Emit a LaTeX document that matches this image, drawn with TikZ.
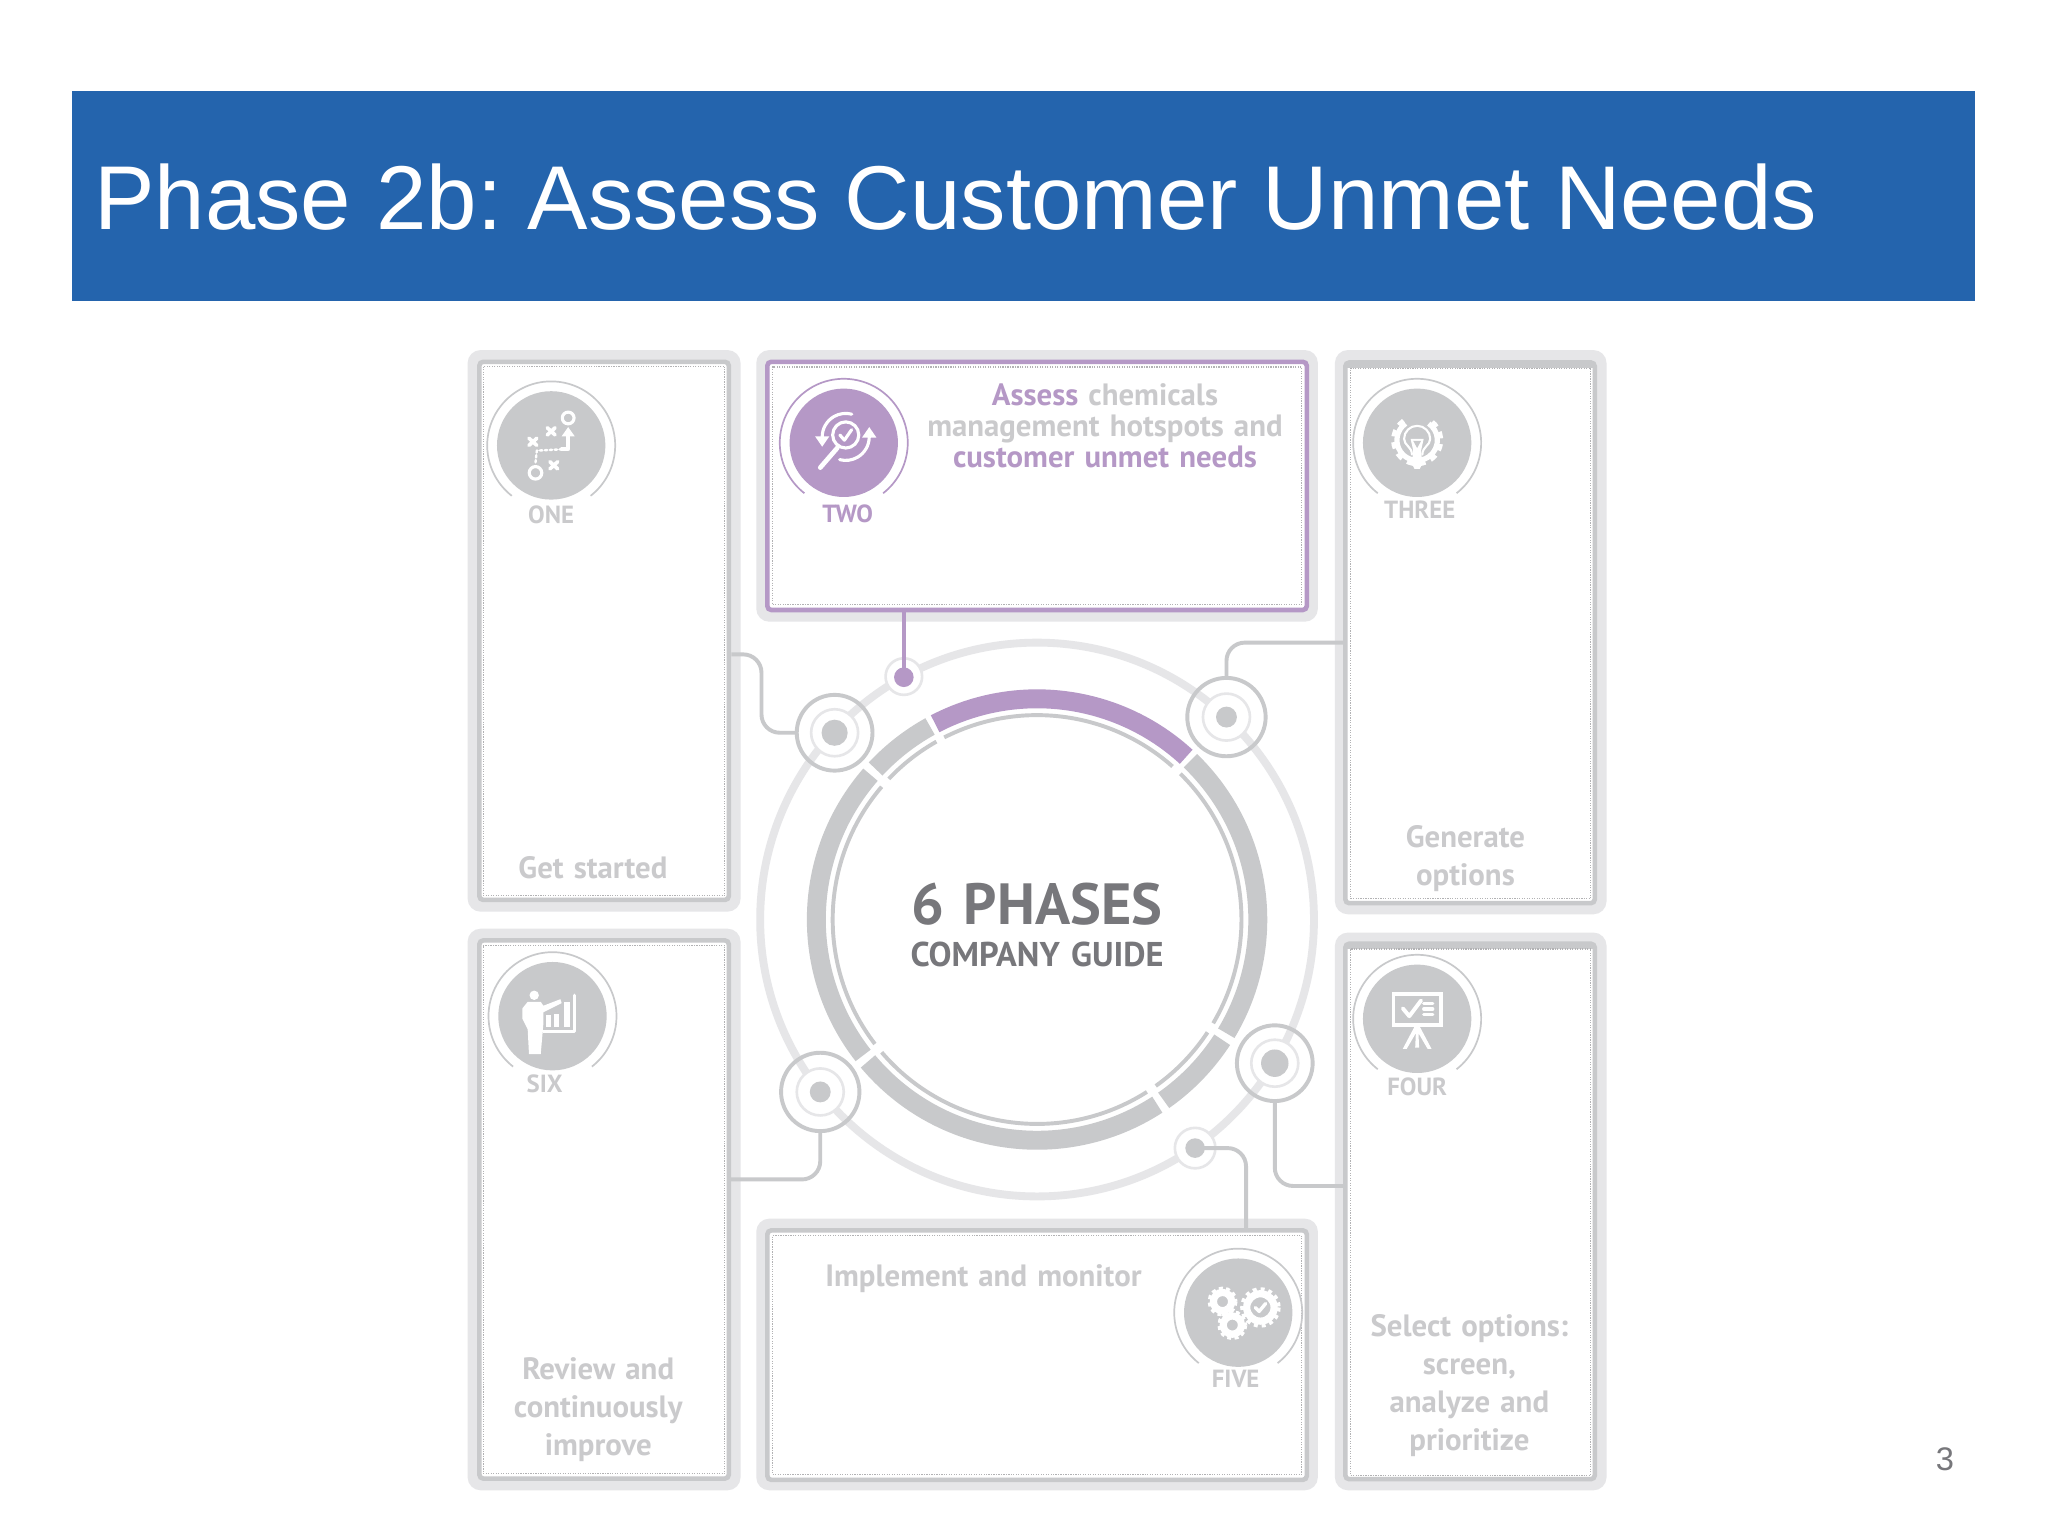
\documentclass[tikz,border=0pt]{standalone}
\usepackage{fontspec}
\setmainfont{Liberation Sans}
\newfontfamily\guidefont[WordSpace=1.3]{PT Sans}
\frenchspacing
\definecolor{guideblue}{RGB}{36,100,173}
\definecolor{guidepurple}{RGB}{181,152,198}
\definecolor{guidegrey}{RGB}{200,201,203}
\definecolor{guidehalo}{RGB}{230,230,232}
\definecolor{guidedots}{RGB}{178,178,180}
\definecolor{guidetext}{RGB}{202,202,204}
\definecolor{guidedark}{RGB}{119,119,123}
\tikzset{
    panelhalo/.style 2 args={rectangle, fill=guidehalo, rounded corners=10pt, inner sep=0pt, minimum width=#1, minimum height=#2},
    panelframe/.style 2 args={rectangle, draw=guidegrey, fill=white, line width=3.5pt, rounded corners=3pt, inner sep=0pt, minimum width=#1, minimum height=#2},
    paneldots/.style 2 args={rectangle, draw=guidedots, line width=0.9pt, densely dotted, inner sep=0pt, minimum width=#1, minimum height=#2},
    phasedisc/.style={circle, fill=guidegrey, inner sep=0pt, minimum size=83pt},
    discarc/.style={draw=guidegrey, line width=1.3pt},
    phasename/.style={font=\guidefont\fontsize{19}{19}\selectfont\bfseries, text=guidetext, inner sep=0pt},
    phasetext/.style={font=\guidefont\fontsize{23.6}{29}\selectfont\bfseries, text=guidetext, align=center, inner sep=0pt},
    portring/.style={circle, draw=guidegrey, line width=3pt, inner sep=0pt, minimum size=58pt},
    porthalo/.style={circle, draw=guidehalo, fill=white, line width=2pt, inner sep=0pt, minimum size=#1},
    portdot/.style={circle, fill=guidegrey, inner sep=0pt, minimum size=#1},
    linkline/.style={draw=guidegrey, line width=3pt, rounded corners=14pt},
    iconline/.style={draw=white, line width=2.4pt, line cap=round, line join=round},
}
\begin{document}
\begin{tikzpicture}[x=1pt, y=-1pt]
    \useasboundingbox[fill=white] (0,0) rectangle (1568,1176);

    % Title bar
    \node[fill=guideblue, inner sep=0pt, minimum width=1457pt, minimum height=161pt] (titlebar) at (783.5,150) {};
    \node[anchor=base west, inner sep=0pt, text=white, font=\fontsize{69.4}{69.4}\selectfont] (titletext) at (72,176) {Phase 2b: Assess Customer Unmet Needs};
    \node[text=guidedark, inner sep=0pt, font=\fontsize{25}{25}\selectfont] (pagenumber) at (1489,1117) {3};

    % Panels
    \node[panelhalo={209pt}{430pt}] (haloone) at (462.5,483) {};
    \node[panelframe={191pt}{412pt}] (frameone) at (462.5,483) {};
    \node[paneldots={185pt}{405pt}] (dotsone) at (462.5,483) {};

    \node[panelhalo={430pt}{208pt}] (halotwo) at (794,372) {};
    \node[panelframe={413pt}{190pt}, draw=guidepurple] (frametwo) at (794,372) {};
    \node[paneldots={405pt}{182pt}] (dotstwo) at (794,372) {};

    \node[panelhalo={208pt}{432pt}] (halothree) at (1126,484) {};
    \node[panelframe={191pt}{414pt}] (framethree) at (1125.5,484.5) {};
    \draw[guidegrey, line width=3pt] (1031,280) -- (1220,280);
    \node[paneldots={184pt}{406pt}] (dotsthree) at (1126,485) {};

    \node[panelhalo={208pt}{427pt}] (halofour) at (1126,927.5) {};
    \node[panelframe={191pt}{410pt}] (framefour) at (1125.5,927.5) {};
    \draw[guidegrey, line width=3pt] (1031,725) -- (1220,725);
    \node[paneldots={184pt}{403pt}] (dotsfour) at (1126,928) {};

    \node[panelhalo={430pt}{208pt}] (halofive) at (794,1037) {};
    \node[panelframe={413pt}{191pt}] (framefive) at (794,1037.5) {};
    \node[paneldots={405pt}{183pt}] (dotsfive) at (794,1037.5) {};

    \node[panelhalo={209pt}{430pt}] (halosix) at (462.5,926) {};
    \node[panelframe={191pt}{412pt}] (framesix) at (462.5,926) {};
    \node[paneldots={185pt}{404pt}] (dotssix) at (462.5,926) {};

    % Outer ring
    \coordinate (hub) at (794,704);
    \draw[guidehalo, line width=6pt] (hub) circle[radius=212];

    % Thick ring segments
    \draw[guidepurple, line width=14.5pt] (hub) ++(-47.5:169) arc[start angle=-47.5, end angle=-117.5, radius=169];
    \draw[guidegrey, line width=14.5pt] (hub) ++(-119:169) arc[start angle=-119, end angle=-137, radius=169];
    \draw[guidegrey, line width=14.5pt] (hub) ++(-139:169) arc[start angle=-139, end angle=-218, radius=169];
    \draw[guidegrey, line width=14.5pt] (hub) ++(-220:169) arc[start angle=-220, end angle=-303, radius=169];
    \draw[guidegrey, line width=14.5pt] (hub) ++(-305:169) arc[start angle=-305, end angle=-327, radius=169];
    \draw[guidegrey, line width=14.5pt] (hub) ++(-329:169) arc[start angle=-329, end angle=-406, radius=169];

    % Thin ring segments
    \draw[guidegrey, line width=3pt] (hub) ++(-48.5:156.5) arc[start angle=-48.5, end angle=-117, radius=156.5];
    \draw[guidegrey, line width=3pt] (hub) ++(-119.5:156.5) arc[start angle=-119.5, end angle=-136.5, radius=156.5];
    \draw[guidegrey, line width=3pt] (hub) ++(-139.5:156.5) arc[start angle=-139.5, end angle=-217.5, radius=156.5];
    \draw[guidegrey, line width=3pt] (hub) ++(-220.5:156.5) arc[start angle=-220.5, end angle=-302.5, radius=156.5];
    \draw[guidegrey, line width=3pt] (hub) ++(-305.5:156.5) arc[start angle=-305.5, end angle=-326.5, radius=156.5];
    \draw[guidegrey, line width=3pt] (hub) ++(-329.5:156.5) arc[start angle=-329.5, end angle=-405.5, radius=156.5];

    % Centre text
    \node[font=\guidefont\fontsize{44.5}{44.5}\selectfont\bfseries, text=guidedark, inner sep=0pt] (guidetitle) at (794,692) {6 PHASES};
    \node[font=\guidefont\fontsize{26.3}{26.3}\selectfont\bfseries, text=guidedark, inner sep=0pt] (guidesub) at (794,731) {COMPANY GUIDE};

    % Ports on the outer ring
    \node[porthalo=36pt] (haloportone) at (639,561) {};
    \node[portdot=20pt] (dotportone) at (639,561) {};
    \node[portring] (portone) at (639,561) {};

    \node[porthalo=28pt] (haloporttwo) at (692,518) {};

    \node[porthalo=36pt] (haloportthree) at (939,549) {};
    \node[portdot=16pt] (dotportthree) at (939,549) {};
    \node[portring, minimum size=60pt] (portthree) at (939,549) {};

    \node[porthalo=36pt] (haloportfour) at (976,814) {};
    \node[portdot=21pt] (dotportfour) at (976,814) {};
    \node[portring] (portfour) at (976,814) {};

    \node[porthalo=31pt] (haloportfive) at (915,879) {};
    \node[portdot=15pt] (dotportfive) at (915,879) {};

    \node[porthalo=36pt] (haloportsix) at (628,836) {};
    \node[portdot=16pt] (dotportsix) at (628,836) {};
    \node[portring, minimum size=60pt] (portsix) at (628,836) {};

    % Connectors
    \coordinate (linkone) at (560,501);
    \coordinate (bendone) at (583,561);
    \coordinate (linkthree) at (1029,492);
    \coordinate (linkfour) at (1029,908);
    \coordinate (linkfive) at (954,941);
    \coordinate (linksix) at (559,903);
    \draw[linkline] (linkone) -| (bendone) -- (portone.west);
    \draw[guidepurple, line width=3pt] (frametwo.south -| haloporttwo) -- (haloporttwo.center);
    \node[portdot=15pt, fill=guidepurple] (dotporttwo) at (692,518.5) {};
    \draw[linkline] (linkthree) -| (portthree.north);
    \draw[linkline] (portfour.south) |- (linkfour);
    \draw[linkline] (dotportfive.center) -| (linkfive);
    \draw[linkline] (portsix.south) |- (linksix);

    % Phase one
    \node[phasedisc] (discone) at (422,341) {};
    \draw[discarc] (discone.center) ++(52:49) arc[start angle=52, end angle=-232, radius=49];
    \node[phasename] (nameone) at (422,394) {ONE};
    \begin{scope}[shift={(discone.center)}]
        \draw[iconline] (13,-21) circle[radius=4.5];
        \draw[iconline] (-12,21) circle[radius=4.8];
        \draw[iconline, line width=2.8pt] (-3,-13.5) -- (3,-8) (3,-13.5) -- (-3,-8);
        \draw[iconline, line width=2.8pt] (-17,-5.5) -- (-11,0) (-11,-5.5) -- (-17,0);
        \draw[iconline, line width=2.8pt] (-1,12.5) -- (5,18) (5,12.5) -- (-1,18);
        \draw[iconline, line width=1.8pt, dotted] (-12,13) -- (-11,4) -- (8,3);
        \draw[iconline, line width=2.8pt] (8,3) -- (13,3) -- (13,-9);
        \fill[white] (8,-7) -- (13,-14) -- (18,-7) -- cycle;
    \end{scope}

    % Phase two
    \node[phasedisc, fill=guidepurple] (disctwo) at (646,339) {};
    \draw[discarc, draw=guidepurple] (disctwo.center) ++(52:49) arc[start angle=52, end angle=-232, radius=49];
    \node[phasename, text=guidepurple] (nametwo) at (649,393) {TWO};
    \begin{scope}[shift={(disctwo.center)}]
        \draw[iconline] (1.5,-6) circle[radius=10];
        \draw[iconline, line width=3.6pt] (-5,4) -- (-18,19);
        \draw[iconline] (-3,-6) -- (0.5,-2) -- (6,-10);
        \draw[iconline] (-16.5,-4.5) arc[start angle=180, end angle=285, radius=18];
        \draw[iconline] (19.5,-4.5) arc[start angle=0, end angle=105, radius=18];
        \fill[white] (-22,-5) -- (-11,-5) -- (-16.5,3) -- cycle;
        \fill[white] (14,-4) -- (25,-4) -- (19.5,-12) -- cycle;
    \end{scope}
    \node[phasetext, font=\guidefont\fontsize{23.6}{24}\selectfont\bfseries] (texttwo) at (846,326) {\textcolor{guidepurple}{Assess} chemicals\\ management hotspots and\\ \textcolor{guidepurple}{customer unmet needs}};

    % Phase three
    \node[phasedisc] (discthree) at (1085,339) {};
    \draw[discarc] (discthree.center) ++(52:49) arc[start angle=52, end angle=-232, radius=49];
    \node[phasename] (namethree) at (1087,390) {THREE};
    \begin{scope}[shift={(discthree.center)}]
        \draw[draw=white, line width=3.5pt, dash pattern=on 5pt off 4.5pt] (0,-2) ++(-125:18.2) arc[start angle=-125, end angle=-415, radius=18.2];
        \draw[white, line width=4pt] (0,-2) ++(-125:15.5) arc[start angle=-125, end angle=-415, radius=15.5];
        \draw[iconline, line width=1.6pt] (-4,9) .. controls (-4,3) and (-10,2) .. (-10,-3) arc[start angle=180, end angle=360, radius=10] .. controls (10,2) and (4,3) .. (4,9);
        \fill[white] (-5,-3) -- (5,-3) -- (3,6) -- (4,16) -- (2,20) -- (-2,20) -- (-4,16) -- (-3,6) -- cycle;
        \fill[guidegrey] (-3,-1.5) -- (3,-1.5) -- (0,4) -- cycle;
    \end{scope}
    \node[phasetext] (textthree) at (1122,657.5) {Generate\\ options};

    % Phase four
    \node[phasedisc] (discfour) at (1085,780) {};
    \draw[discarc] (discfour.center) ++(52:49) arc[start angle=52, end angle=-232, radius=49];
    \node[phasename] (namefour) at (1085,832) {FOUR};
    \begin{scope}[shift={(discfour.center)}]
        \draw[iconline, line cap=butt, line join=miter, line width=2.8pt] (-18,-19) rectangle (18,5);
        \draw[iconline, line width=3pt] (-11,-8) -- (-6,-2) -- (3,-14);
        \draw[iconline, line width=2.4pt] (5,-12) -- (12,-12) (5,-7.5) -- (12,-7.5) (5,-3) -- (12,-3);
        \fill[white] (-2,6) -- (2,6) -- (11,23) -- (8,23) -- (1,11) -- (1.5,22) -- (-1.5,22) -- (-1,11) -- (-8,23) -- (-11,23) -- cycle;
    \end{scope}
    \node[phasetext] (textfour) at (1125,1061) {Select options:\\ screen,\\ analyze and\\ prioritize};

    % Phase five
    \node[phasedisc] (discfive) at (948,1005) {};
    \draw[discarc] (discfive.center) ++(52:49) arc[start angle=52, end angle=-232, radius=49];
    \node[phasename] (namefive) at (946,1056) {FIVE};
    \begin{scope}[shift={(discfive.center)}]
        \draw[draw=white, line width=3pt, dash pattern=on 3pt off 2.5pt] (-12,-8.5) circle[radius=10];
        \draw[white, line width=5.5pt] (-12,-8.5) circle[radius=7];
        \draw[draw=white, line width=3pt, dash pattern=on 3pt off 2.5pt] (-4.5,9.5) circle[radius=10];
        \draw[white, line width=5.5pt] (-4.5,9.5) circle[radius=7];
        \draw[draw=white, line width=3pt, dash pattern=on 3pt off 3pt] (17,-4) circle[radius=14];
        \draw[white, line width=5.5pt] (17,-4) circle[radius=10.5];
        \draw[iconline, line width=2.6pt] (13,-4) -- (16,-1) -- (21,-7);
    \end{scope}
    \node[phasetext] (textfive) at (753,979) {Implement and monitor};

    % Phase six
    \node[phasedisc] (discsix) at (423,778) {};
    \draw[discarc] (discsix.center) ++(52:49) arc[start angle=52, end angle=-232, radius=49];
    \node[phasename] (namesix) at (417,830) {SIX};
    \begin{scope}[shift={(discsix.center)}]
        \fill[white] (-14,-16) circle[radius=3.6];
        \fill[white] (-19,-11) -- (-9,-11) -- (-7,-8) -- (6,-13) -- (7,-10) -- (-7,-3) -- (-7,6) -- (-9,29) -- (-18,29) -- (-19,10) -- (-23,2) -- (-23,-6) -- cycle;
        \draw[iconline] (17,-16) -- (17,12) -- (-7,12);
        \fill[white] (-5,-0.6) rectangle (-1,8.4);
        \fill[white] (1,-1.8) rectangle (5,8.4);
        \fill[white] (9,-10.7) rectangle (13.5,8.4);
    \end{scope}
    \node[phasetext] (textsix) at (458,1079) {Review and\\ continuously\\ improve};

    \node[phasetext] (textone) at (454,664) {Get started};
\end{tikzpicture}
\end{document}
